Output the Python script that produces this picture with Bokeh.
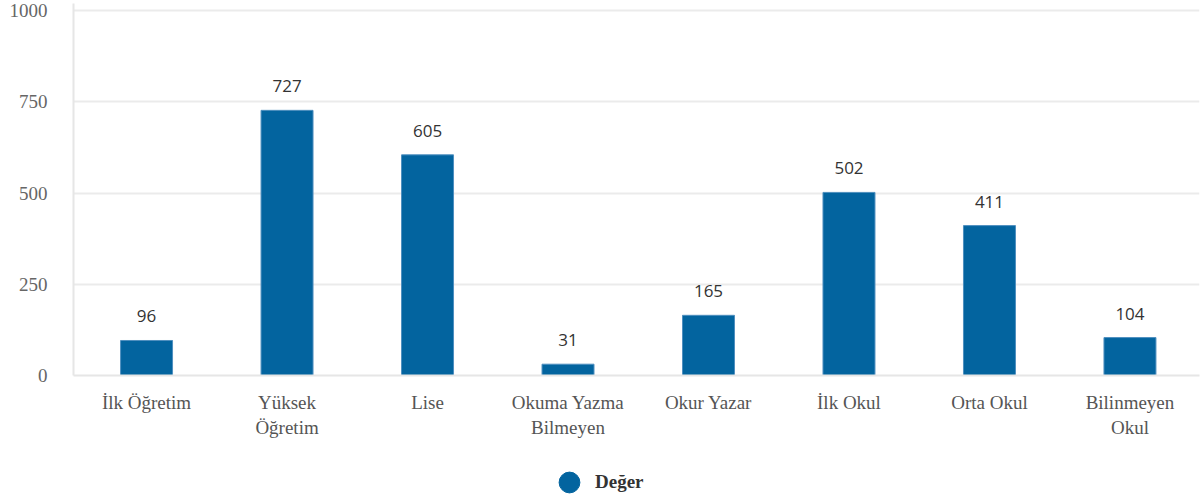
from bokeh.plotting import figure
from bokeh.layouts import column
from bokeh.models import Range1d, FixedTicker, Legend, LegendItem, ColumnDataSource
from bokeh.core.properties import value
from bokeh.embed import file_html
from bokeh.resources import INLINE

# Education level counts
categories = ["İlk Öğretim", "Yüksek\nÖğretim", "Lise", "Okuma Yazma\nBilmeyen",
              "Okur Yazar", "İlk Okul", "Orta Okul", "Bilinmeyen\nOkul"]
values = [96, 727, 605, 31, 165, 502, 411, 104]
y_ticks = [0, 250, 500, 750, 1000]
series_name = "Değer"

BAR = "#03649f"
SERIF = "Liberation Serif"

idx = list(range(len(categories)))
src = ColumnDataSource(dict(x=idx, top=values, label=[str(v) for v in values]))

p = figure(width=1201, height=455, output_backend="svg", toolbar_location=None,
           x_range=Range1d(-0.52, 7.495), y_range=Range1d(0, 1020),
           min_border_left=73, min_border_right=2, min_border_top=3,
           min_border_bottom=80)
p.outline_line_color = None
p.background_fill_color = "white"
p.border_fill_color = "white"

p.vbar(x="x", top="top", width=0.37, source=src, fill_color=BAR,
       line_color="#4f8fbf", line_width=1)

p.text(x="x", y="top", text="label", source=src, y_offset=-24,
       text_align="center", text_baseline="alphabetic",
       text_font=value("Open Sans"), text_font_size="17px", text_color="#333333")

# grid
p.xgrid.grid_line_color = None
p.ygrid.grid_line_color = "#ebebeb"
p.ygrid.grid_line_width = 2
p.ygrid.ticker = FixedTicker(ticks=y_ticks)

# y axis
p.yaxis.ticker = FixedTicker(ticks=y_ticks)
p.yaxis.axis_line_color = "#e6e6e6"
p.yaxis.axis_line_width = 2
p.yaxis.major_tick_line_color = None
p.yaxis.minor_tick_line_color = None
p.yaxis.major_tick_out = 0
p.yaxis.major_label_standoff = 26
p.yaxis.major_label_text_font = SERIF
p.yaxis.major_label_text_font_size = "19px"
p.yaxis.major_label_text_color = "#666666"

# x axis
p.xaxis.ticker = FixedTicker(ticks=idx)
p.xaxis.major_label_overrides = {i: c for i, c in enumerate(categories)}
p.xaxis.axis_line_color = "#e6e6e6"
p.xaxis.axis_line_width = 2
p.xaxis.major_tick_line_color = None
p.xaxis.minor_tick_line_color = None
p.xaxis.major_tick_out = 0
p.xaxis.major_label_standoff = 16
p.xaxis.major_label_text_font = SERIF
p.xaxis.major_label_text_font_size = "19px"
p.xaxis.major_label_text_color = "#555555"

# legend strip below the chart, with a round marker
lg = figure(width=1201, height=47, output_backend="svg", toolbar_location=None,
            x_range=Range1d(0, 1), y_range=Range1d(0, 1),
            min_border=0, min_border_left=0, min_border_right=0,
            min_border_top=0, min_border_bottom=0)
lg.axis.visible = False
lg.grid.visible = False
lg.outline_line_color = None
lg.border_fill_color = "white"
dummy = lg.scatter(x=[float("nan")], y=[float("nan")], marker="circle",
                   fill_color=BAR, line_color=BAR)
legend = Legend(items=[LegendItem(label=series_name, renderers=[dummy])],
                location=(470, -6), orientation="horizontal",
                glyph_width=52, glyph_height=52, label_standoff=0,
                padding=0, margin=0, spacing=0,
                border_line_color=None, background_fill_alpha=0,
                label_text_font=SERIF, label_text_font_style="bold",
                label_text_font_size="19px", label_text_color="#333333")
lg.add_layout(legend)

layout = column(p, lg, spacing=0)
open("out.html", "w").write(file_html(layout, INLINE))
